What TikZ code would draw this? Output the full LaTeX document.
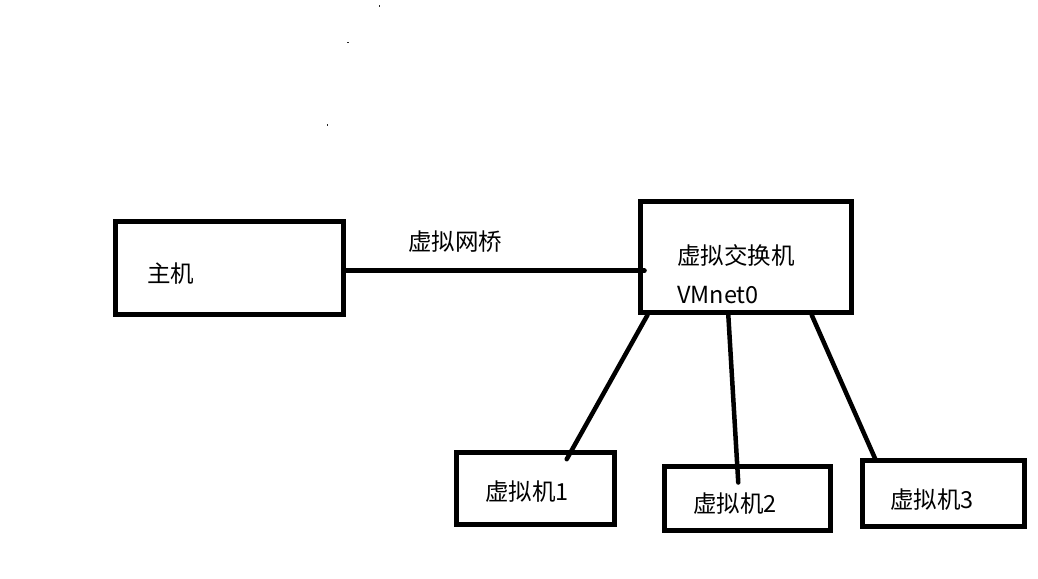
\documentclass[tikz,border=0pt]{standalone}
\usepackage{fontspec}
\setmainfont{Noto Sans CJK SC}
\begin{document}
\begin{tikzpicture}[x=1pt,y=-1pt,
  box/.style={draw, line width=5pt, inner sep=0pt},
  txt/.style={anchor=west, inner sep=0pt, font=\fontsize{23.5}{28}\selectfont},
  link/.style={line width=4.5pt, line cap=round},
  speck/.style={fill=black!85, draw=none}]
\useasboundingbox (0,0) rectangle (1038,578);

% boxes
\node[box, minimum width=228pt, minimum height=93pt] (host) at (229.5,268) {};
\node[box, minimum width=211pt, minimum height=111pt] (switch) at (746,257) {};
\node[box, minimum width=158pt, minimum height=71.5pt] (vm1) at (535,488.25) {};
\node[box, minimum width=166.5pt, minimum height=63.3pt] (vm2) at (747.25,498.35) {};
\node[box, minimum width=161.5pt, minimum height=66pt] (vm3) at (943.25,493) {};

% texts
\node[txt] (thost) at (147,274) {主机};
\node[txt] (tbridge) at (408,241.7) {虚拟网桥};
\node[txt] (tswitch) at (677,255) {虚拟交换机};
\node[txt] (tnet) at (677,295) {VMnet0};
\node[txt] (tvm1) at (485,491.7) {虚拟机1};
\node[txt] (tvm2) at (693,503.3) {虚拟机2};
\node[txt] (tvm3) at (890,500) {虚拟机3};

% connectors
\draw[link] ([yshift=-2.7pt]host.east) -- ([xshift=6.5pt,yshift=-13.7pt]switch.west);
\draw[link] ([xshift=9.5pt]switch.south west) -- ([xshift=31.7pt,yshift=-9.2pt]vm1.north);
\draw[link] ([xshift=-17.7pt]switch.south) -- ([xshift=-9pt,yshift=-18.3pt]vm2.north);
\draw[link] ([xshift=65.7pt]switch.south) -- ([xshift=15.8pt,yshift=-2.7pt]vm3.north west);

% specks
\fill[speck] (378.5,5.3) rectangle (380,6.8);
\fill[speck] (347.3,42) rectangle (348.8,43.5);
\fill[speck] (326.6,124) rectangle (327.8,126);
\end{tikzpicture}
\end{document}
